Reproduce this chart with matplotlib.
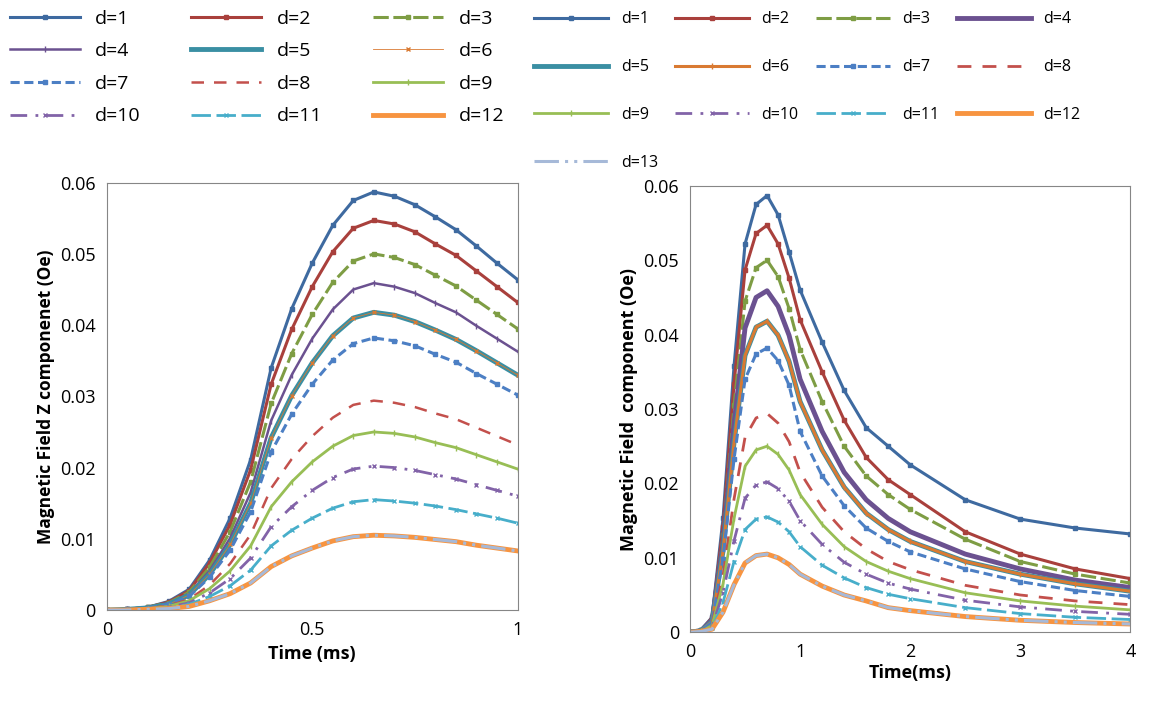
import matplotlib
matplotlib.use("Agg")
import matplotlib.pyplot as plt
from matplotlib.ticker import FuncFormatter

plt.rcParams['font.family'] = ['Open Sans', 'DejaVu Sans']

labels = [f"d={i}" for i in range(1, 14)]

# Left chart: time 0..1 ms
xl = [0, .05, .1, .15, .2, .25, .3, .35, .4, .45, .5, .55, .6, .65, .7, .75, .8, .85, .9, .95, 1.0]
left = {
 1: [0,.0001,.0004,.0012,.0029,.0070,.0129,.0211,.0340,.0423,.0487,.0540,.0575,.0587,.0581,.0569,.0552,.0534,.0511,.0487,.0464],
 2: [0,.0001,.0004,.0011,.0027,.0066,.0120,.0197,.0317,.0394,.0454,.0503,.0536,.0547,.0542,.0531,.0514,.0498,.0476,.0454,.0432],
 3: [0,.0001,.0004,.0010,.0025,.0060,.0110,.0180,.0290,.0360,.0415,.0460,.0490,.0500,.0495,.0485,.0470,.0455,.0435,.0415,.0395],
 4: [0,.0001,.0003,.0009,.0023,.0055,.0101,.0165,.0266,.0330,.0381,.0422,.0450,.0459,.0454,.0445,.0431,.0418,.0399,.0381,.0363],
 5: [0,.0001,.0003,.0008,.0021,.0050,.0092,.0150,.0242,.0301,.0347,.0385,.0410,.0418,.0414,.0405,.0393,.0380,.0364,.0347,.0330],
 6: [0,.0001,.0003,.0008,.0021,.0050,.0092,.0150,.0242,.0301,.0347,.0385,.0410,.0418,.0414,.0405,.0393,.0380,.0364,.0347,.0330],
 7: [0,.0001,.0003,.0008,.0019,.0046,.0084,.0138,.0222,.0275,.0317,.0351,.0374,.0382,.0378,.0371,.0359,.0348,.0332,.0317,.0302],
 8: [0,.0001,.0002,.0006,.0015,.0035,.0065,.0106,.0171,.0212,.0244,.0270,.0288,.0294,.0291,.0285,.0276,.0268,.0256,.0244,.0232],
 9: [0,0,.0002,.0005,.0013,.0030,.0055,.0090,.0145,.0180,.0208,.0230,.0245,.0250,.0248,.0243,.0235,.0228,.0218,.0208,.0198],
 10: [0,0,.0001,.0004,.0010,.0024,.0044,.0073,.0117,.0145,.0168,.0186,.0198,.0202,.0200,.0196,.0190,.0184,.0176,.0168,.0160],
 11: [0,0,.0001,.0003,.0008,.0019,.0034,.0056,.0090,.0112,.0129,.0143,.0152,.0155,.0153,.0150,.0146,.0141,.0135,.0129,.0122],
 12: [0,0,.0001,.0002,.0005,.0013,.0023,.0038,.0061,.0076,.0087,.0097,.0103,.0105,.0104,.0102,.0099,.0096,.0091,.0087,.0083],
 13: [0,0,.0001,.0002,.0005,.0013,.0023,.0038,.0061,.0076,.0087,.0097,.0103,.0105,.0104,.0102,.0099,.0096,.0091,.0087,.0083],
}

# Right chart: time 0..4 ms
xr = [0, .1, .2, .3, .4, .5, .6, .7, .8, .9, 1.0, 1.2, 1.4, 1.6, 1.8, 2.0, 2.5, 3.0, 3.5, 4.0]
right = {
 1: [0,.0003,.002,.0153,.0358,.0522,.0575,.0587,.0561,.0511,.046,.039,.0325,.0275,.025,.0225,.0178,.0152,.014,.0132],
 2: [0,.0003,.0019,.0142,.0334,.0487,.0536,.0547,.0522,.0476,.042,.035,.0285,.0235,.0205,.0185,.0135,.0105,.0085,.0072],
 3: [0,.0003,.0017,.013,.0305,.0445,.049,.050,.0478,.0435,.038,.031,.025,.021,.0185,.0165,.0125,.0095,.0078,.0066],
 4: [0,.0002,.0016,.0119,.028,.0409,.045,.0459,.0438,.0399,.034,.027,.0215,.0178,.0153,.0135,.0105,.0085,.0070,.0060],
 5: [0,.0002,.0014,.0109,.0255,.0372,.041,.0418,.0399,.0364,.031,.0245,.0195,.016,.0138,.0122,.0095,.0078,.0065,.0055],
 6: [0,.0002,.0014,.0109,.0255,.0372,.041,.0418,.0399,.0364,.031,.0245,.0195,.016,.0138,.0122,.0095,.0078,.0065,.0055],
 7: [0,.0002,.0013,.0099,.0233,.034,.0374,.0382,.0365,.0332,.027,.021,.017,.014,.0122,.0108,.0085,.0068,.0056,.0048],
 8: [0,.0001,.001,.0076,.0179,.0262,.0288,.0294,.0281,.0256,.0215,.0168,.0135,.0112,.0095,.0084,.0063,.005,.0042,.0037],
 9: [0,.0001,.0009,.0065,.0153,.0223,.0245,.025,.0239,.0218,.0185,.0145,.0115,.0095,.0082,.0072,.0053,.0042,.0035,.003],
 10: [0,.0001,.0007,.0053,.0123,.018,.0198,.0202,.0193,.0176,.015,.0118,.0094,.0078,.0066,.0058,.0043,.0034,.0028,.0024],
 11: [0,.0001,.0005,.004,.0095,.0138,.0152,.0155,.0148,.0135,.0115,.009,.0073,.006,.0051,.0045,.0033,.0025,.002,.0017],
 12: [0,.0001,.0004,.0027,.0064,.0093,.0103,.0105,.01,.0091,.0078,.0062,.005,.0042,.0033,.0029,.0021,.0016,.0013,.0011],
 13: [0,.0001,.0004,.0027,.0064,.0093,.0103,.0105,.01,.0091,.0078,.0062,.005,.0042,.0033,.0029,.0021,.0016,.0013,.0011],
}

colors = {1:'#3E6AA0',2:'#A9403C',3:'#7E9D44',4:'#6B5190',5:'#3A8FA3',6:'#D97A32',
          7:'#4C7FC4',8:'#C3504C',9:'#98BE55',10:'#8263A8',11:'#47AECA',12:'#F79440',13:'#A6B9D8'}
st_left = {
 1: dict(ls='-', lw=2.2, marker='s', ms=3.5),
 2: dict(ls='-', lw=2.2, marker='s', ms=3.5),
 3: dict(ls=(0,(5,1.5)), lw=2.2, marker='s', ms=3.5),
 4: dict(ls='-', lw=1.8, marker='|', ms=4),
 5: dict(ls='-', lw=3.5),
 6: dict(ls='-', lw=0.6, marker='x', ms=3),
 7: dict(ls=(0,(3,1.5)), lw=2.2, marker='s', ms=3.5),
 8: dict(ls=(0,(5,4)), lw=1.8),
 9: dict(ls='-', lw=2.0, marker='|', ms=4),
 10: dict(ls=(0,(6,3,1,3)), lw=2.0, marker='x', ms=3.5),
 11: dict(ls=(0,(7,2)), lw=2.0, marker='x', ms=3.5),
 12: dict(ls='-', lw=3.5),
 13: dict(ls=(0,(8,2,1,2,1,2)), lw=2.2),
}
st_right = dict(st_left)
st_right[4] = dict(ls='-', lw=3.5)
st_right[6] = dict(ls='-', lw=2.2, marker='|', ms=4)
st_right[8] = dict(ls=(0,(5,4)), lw=2.0)

fig = plt.figure(figsize=(11.5, 7.04), dpi=100)
axL = fig.add_axes([0.093, 0.1335, 0.357, 0.607])
axR = fig.add_axes([0.600, 0.102, 0.383, 0.634])

fmt = FuncFormatter(lambda v, p: '0' if abs(v) < 1e-12 else f'{v:g}')
hl = {}
for d in range(1, 14):
    h, = axL.plot(xl, left[d], color=colors[d], label=labels[d-1], **st_left[d])
    hl[d] = h
hr = {}
for d in range(1, 14):
    h, = axR.plot(xr, right[d], color=colors[d], label=labels[d-1], **st_right[d])
    hr[d] = h

for ax, xmax, xt in [(axL, 1, [0, 0.5, 1]), (axR, 4, [0, 1, 2, 3, 4])]:
    ax.set_xlim(0, xmax)
    ax.set_ylim(0, 0.06)
    ax.set_xticks(xt)
    ax.set_yticks([0, .01, .02, .03, .04, .05, .06])
    ax.yaxis.set_major_formatter(fmt)
    ax.xaxis.set_major_formatter(fmt)
    ax.tick_params(labelsize=13, length=0, pad=8)
    for s in ax.spines.values():
        s.set_color('#868686')

axL.set_xlabel('Time (ms)', fontsize=13, fontweight='bold')
axL.set_ylabel('Magnetic Field Z componenet (Oe)', fontsize=12.5, fontweight='bold')
axR.set_xlabel('Time(ms)', fontsize=13, fontweight='bold', labelpad=2)
axR.set_ylabel('Magnetic Field  component (Oe)', fontsize=13, fontweight='bold')

orderL = [1, 4, 7, 10, 2, 5, 8, 11, 3, 6, 9, 12]
orderR = [1, 5, 9, 13, 2, 6, 10, 3, 7, 11, 4, 8, 12]
fig.legend(handles=[hl[d] for d in orderL], loc='upper left', bbox_to_anchor=(0.0, 1.0), ncol=3,
           frameon=False, fontsize=14, handlelength=3.6, columnspacing=2.6, labelspacing=0.75,
           borderaxespad=0.1)
fig.legend(handles=[hr[d] for d in orderR], loc='upper left', bbox_to_anchor=(0.455, 1.0), ncol=4,
           frameon=False, fontsize=11.5, handlelength=4.6, columnspacing=1.1, labelspacing=2.0,
           borderaxespad=0.3)

fig.savefig('out.png', dpi=100)
